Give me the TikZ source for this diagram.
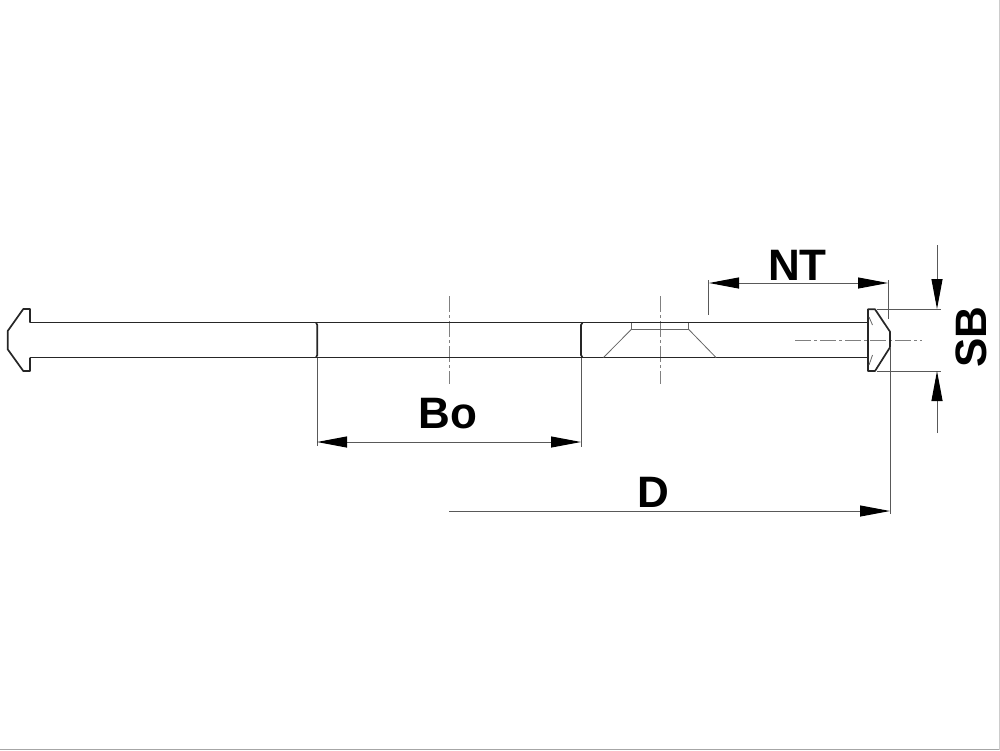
\documentclass[tikz,border=0pt]{standalone}
\usepackage{fontspec}
\setmainfont{Liberation Sans}
\usetikzlibrary{arrows.meta}
\tikzset{
x=1pt,
y=-1pt,
>={Triangle[length=30pt,width=11pt,black]},
outline/.style={line width=1.7pt, black!85},
thinline/.style={line width=0.8pt, black!60},
dimline/.style={line width=1pt, black!65},
centerline/.style={line width=0.6pt, black!50, dash pattern=on 16pt off 3pt on 3pt off 3pt},
dimlabel/.style={font=\fontsize{44}{44}\selectfont\bfseries, inner sep=0pt},
}

\begin{document}
\begin{tikzpicture}
        \useasboundingbox (0,0) rectangle (1000,750);
        \draw[line width=1.5pt, black!35] (0,749.5) -- (1000,749.5);
        \draw[line width=0.7pt, black!20] (999.6,0) -- (999.6,750);

        \coordinate (bo1) at (317,442);
        \coordinate (bo2) at (581,442);
        \coordinate (nt1) at (709,283);
        \coordinate (nt2) at (888,283);
        \coordinate (d1) at (449,511);
        \coordinate (d2) at (890,511);
        \coordinate (sb1) at (937,309);
        \coordinate (sb2) at (937,371);

        % center lines
        \draw[centerline] (449,296) -- (449,384);
        \draw[centerline] (660,296) -- (660,384);
        \draw[centerline] (795,340) -- (922,340);

        % bolt
        \draw[outline,line join=round] (30,322.5) -- (30,309) -- (23.3,309) -- (7.7,331) -- (7.7,349.3) -- (23.3,371) -- (30,371) -- (30,357.5);
        \draw[outline] (30,322.5) -- (868,322.5);
        \draw[outline] (30,357.5) -- (868,357.5);
        \draw[outline,line join=round] (868,309.3) -- (875,309.3) -- (890,331.7) -- (890,347.3) -- (875,371) -- (868,371) -- cycle;
        \draw[thinline] (869,317) -- (872.5,325);
        \draw[thinline] (869,365) -- (872.5,355);

        % cuts
        \draw[outline] (316,322.5) -- (317.3,325) -- (317.3,355) -- (316,357.5);
        \draw[outline] (582.5,322.5) -- (581,325) -- (581,355) -- (582.5,357.5);

        % countersink
        \draw[thinline] (631.7,322.5) -- (631.7,329) -- (688.3,329) -- (688.3,322.5);
        \draw[thinline] (631.7,329) -- (603.5,357.5);
        \draw[thinline] (688.3,329) -- (716,357.5);

        % extension lines
        \draw[dimline] (317,357.5) -- (317,446);
        \draw[dimline] (581,357.5) -- (581,447);
        \draw[dimline] (708.5,280) -- (708.5,315);
        \draw[dimline] (888,280) -- (888,319);
        \draw[dimline] (890,347.3) -- (890,514);
        \draw[dimline] (877,309) -- (941,309);
        \draw[dimline] (877,371) -- (941,371);

        % dimensions
        \draw[dimline,<->] (bo1) -- (bo2);
        \draw[dimline,<->] (nt1) -- (nt2);
        \draw[dimline,->] (d1) -- (d2);
        \draw[dimline,->] (937,245) -- (sb1);
        \draw[dimline,->] (937,433) -- (sb2);

        \node[dimlabel] (bo) at (448,414) {Bo};
        \node[dimlabel] (nt) at (797.5,265) {NT};
        \node[dimlabel] (d) at (653,492) {D};
        \node[dimlabel,rotate=90] (sb) at (971,337) {SB};
\end{tikzpicture}
\end{document}
